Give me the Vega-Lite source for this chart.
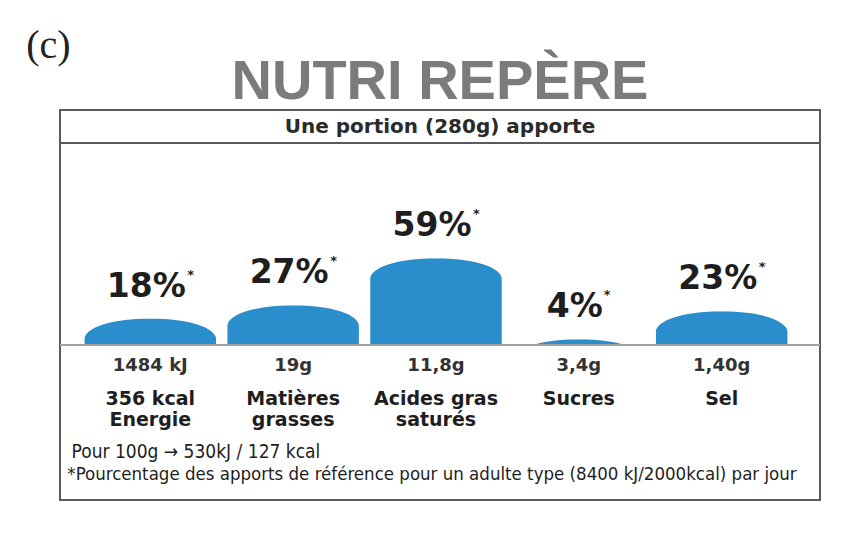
{
  "$schema": "https://vega.github.io/schema/vega-lite/v6.json",
  "width": 760,
  "height": 390,
  "autosize": {"type": "none"},
  "padding": {"left": 60, "top": 110, "right": 35, "bottom": 33},
  "background": "white",
  "config": {
    "view": {"stroke": "#5a5a5a", "strokeWidth": 2},
    "text": {"font": "DejaVu Sans, sans-serif", "color": "#1e1e1e"}
  },
  "title": {
    "text": "NUTRI REPÈRE",
    "font": "Liberation Sans, sans-serif",
    "fontSize": 56,
    "fontWeight": "bold",
    "color": "#7b7b7b",
    "anchor": "middle",
    "offset": 8,
    "dy": 94
  },
  "data": {
    "values": [
      {"nutrient": "Energie", "pct": 18, "pctLabel": "18%", "amount": "1484 kJ", "line1": "356 kcal", "line2": "Energie"},
      {"nutrient": "Matières grasses", "pct": 27, "pctLabel": "27%", "amount": "19g", "line1": "Matières", "line2": "grasses"},
      {"nutrient": "Acides gras saturés", "pct": 59, "pctLabel": "59%", "amount": "11,8g", "line1": "Acides gras", "line2": "saturés"},
      {"nutrient": "Sucres", "pct": 4, "pctLabel": "4%", "amount": "3,4g", "line1": "Sucres", "line2": ""},
      {"nutrient": "Sel", "pct": 23, "pctLabel": "23%", "amount": "1,40g", "line1": "Sel", "line2": ""}
    ]
  },
  "layer": [
    {
      "mark": {"type": "bar", "color": "#2a8dcc"},
      "encoding": {
        "x": {"field": "nutrient", "type": "nominal", "sort": null, "axis": null,
              "scale": {"paddingInner": 0.08, "paddingOuter": 0.2, "align": 0.43}},
        "y": {"field": "pct", "type": "quantitative",
              "scale": {"domain": [-105.4, 159.9], "nice": false, "zero": false},
              "axis": {"domain": false, "ticks": false, "labels": false, "grid": false,
                       "title": "(c)", "titleAngle": 0, "titleFont": "Liberation Serif, serif",
                       "titleFontSize": 40, "titleFontWeight": "normal", "titleColor": "#222",
                       "titleX": -12, "titleY": -53, "titleAlign": "center", "titleBaseline": "alphabetic"}}
      }
    },
    {
      "mark": {"type": "point", "filled": true, "fill": "white", "opacity": 1, "strokeWidth": 0,
               "size": 17424, "shape": "M -1.04 -0.02 L -1.04 0.3 L -1 0.3 C -0.9 -0.1 0.9 -0.1 1 0.3 L 1.04 0.3 L 1.04 -0.02 Z"},
      "encoding": {
        "x": {"field": "nutrient", "type": "nominal", "sort": null},
        "y": {"field": "pct", "type": "quantitative"}
      }
    },
    {
      "mark": {"type": "rule", "color": "#a0a0a0", "strokeWidth": 2},
      "encoding": {"y": {"datum": 0, "type": "quantitative"}}
    },
    {
      "data": {"values": [{"t": 1}]},
      "mark": {"type": "rule", "color": "#5a5a5a", "strokeWidth": 2},
      "encoding": {"y": {"datum": 137.4, "type": "quantitative"}}
    },
    {
      "data": {"values": [{"t": "Une portion (280g) apporte"}]},
      "mark": {"type": "text", "fontSize": 20, "fontWeight": "bold", "baseline": "middle", "color": "#2a2a2a"},
      "encoding": {"y": {"datum": 148.3, "type": "quantitative"}, "text": {"field": "t"}}
    },
    {
      "mark": {"type": "text", "fontSize": 33, "fontWeight": "bold", "baseline": "alphabetic", "dy": -22, "dx": -4},
      "encoding": {
        "x": {"field": "nutrient", "type": "nominal", "sort": null},
        "y": {"field": "pct", "type": "quantitative"},
        "text": {"field": "pctLabel"}
      }
    },
    {
      "transform": [{"filter": "datum.pct >= 10"}],
      "mark": {"type": "text", "fontSize": 13, "fontWeight": "bold", "baseline": "alphabetic", "align": "left", "dy": -40, "dx": 37},
      "encoding": {
        "x": {"field": "nutrient", "type": "nominal", "sort": null},
        "y": {"field": "pct", "type": "quantitative"},
        "text": {"value": "*"}
      }
    },
    {
      "transform": [{"filter": "datum.pct < 10"}],
      "mark": {"type": "text", "fontSize": 13, "fontWeight": "bold", "baseline": "alphabetic", "align": "left", "dy": -40, "dx": 25},
      "encoding": {
        "x": {"field": "nutrient", "type": "nominal", "sort": null},
        "y": {"field": "pct", "type": "quantitative"},
        "text": {"value": "*"}
      }
    },
    {
      "mark": {"type": "text", "fontSize": 18, "fontWeight": "bold", "baseline": "middle", "color": "#333333"},
      "encoding": {
        "x": {"field": "nutrient", "type": "nominal", "sort": null},
        "y": {"datum": -14.3, "type": "quantitative"},
        "text": {"field": "amount"}
      }
    },
    {
      "mark": {"type": "text", "fontSize": 19, "fontWeight": "bold", "baseline": "middle"},
      "encoding": {
        "x": {"field": "nutrient", "type": "nominal", "sort": null},
        "y": {"datum": -36.4, "type": "quantitative"},
        "text": {"field": "line1"}
      }
    },
    {
      "mark": {"type": "text", "fontSize": 19, "fontWeight": "bold", "baseline": "middle"},
      "encoding": {
        "x": {"field": "nutrient", "type": "nominal", "sort": null},
        "y": {"datum": -51.3, "type": "quantitative"},
        "text": {"field": "line2"}
      }
    },
    {
      "data": {"values": [{"t": "Pour 100g → 530kJ / 127 kcal"}]},
      "mark": {"type": "text", "font": "DejaVu Sans Condensed, sans-serif", "fontSize": 19, "baseline": "middle", "align": "left", "dx": -13},
      "encoding": {
        "x": {"datum": "Energie", "type": "nominal", "bandPosition": 0},
        "y": {"datum": -72.8, "type": "quantitative"},
        "text": {"field": "t"}
      }
    },
    {
      "data": {"values": [{"t": "*Pourcentage des apports de référence pour un adulte type (8400 kJ/2000kcal) par jour"}]},
      "mark": {"type": "text", "font": "DejaVu Sans Condensed, sans-serif", "fontSize": 18.5, "baseline": "middle", "dx": -8},
      "encoding": {
        "y": {"datum": -87.8, "type": "quantitative"},
        "text": {"field": "t"}
      }
    }
  ]
}
